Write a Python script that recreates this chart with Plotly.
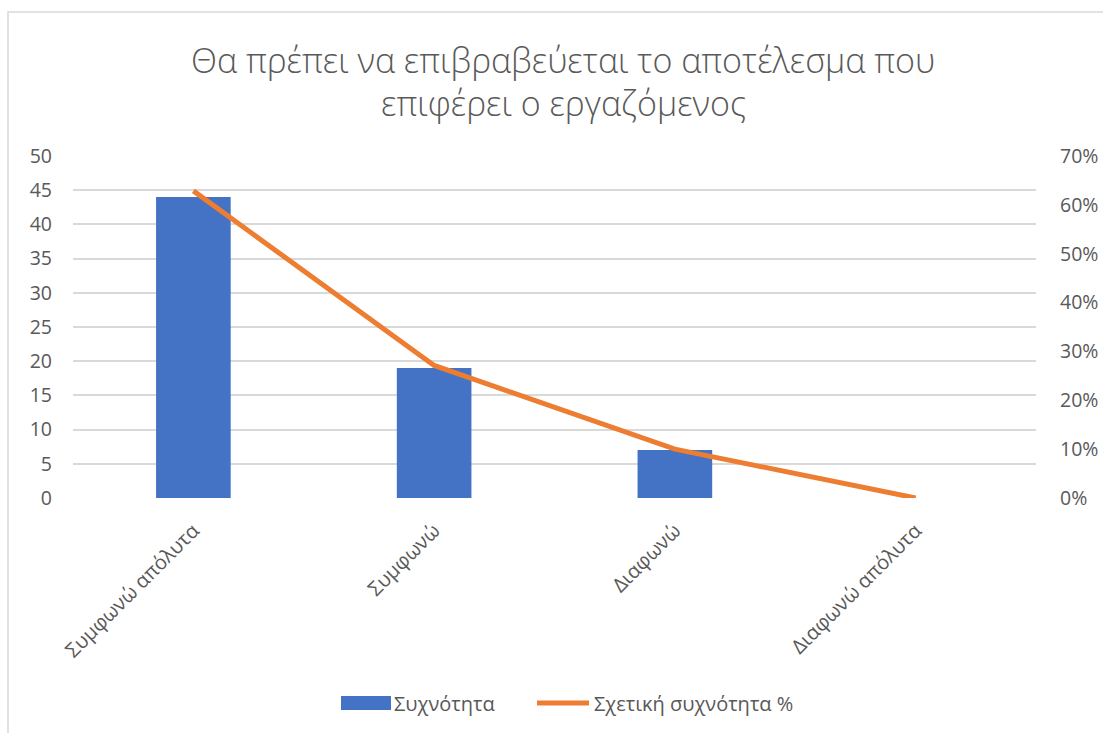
import plotly.graph_objects as go

categories = ["Συμφωνώ απόλυτα", "Συμφωνώ", "Διαφωνώ", "Διαφωνώ απόλυτα"]
frequency = [44, 19, 7, 0]
relative_pct = [0.6286, 0.2714, 0.10, 0.0]
title_lines = ["Θα πρέπει να επιβραβεύεται το αποτέλεσμα που", "επιφέρει ο εργαζόμενος"]
series_names = ["Συχνότητα", "Σχετική συχνότητα %"]

W, H = 1103, 733
L, R, T, B = 73, 67, 156, 235
FONT = "Open Sans, Noto Sans, sans-serif"
GRAY = "#595959"
BLUE = "#4472C4"
ORANGE = "#ED7D31"

fig = go.Figure()
fig.add_trace(go.Bar(
    x=categories, y=frequency, name=series_names[0],
    marker=dict(color=BLUE, line=dict(width=0)),
    width=0.31, yaxis="y", showlegend=False,
))
fig.add_trace(go.Scatter(
    x=categories, y=relative_pct, name=series_names[1],
    mode="lines", line=dict(color=ORANGE, width=5), yaxis="y2", showlegend=False,
))

pw = W - L - R
ph = H - T - B
def px_x(x):
    return (x - L) / pw
def px_y(y):
    return (H - B - y) / ph

fig.update_layout(
    width=W, height=H,
    margin=dict(l=L, r=R, t=T, b=B, autoexpand=False),
    paper_bgcolor="white", plot_bgcolor="white",
    font=dict(family=FONT, color=GRAY, size=20),
    showlegend=False,
    xaxis=dict(showgrid=False, tickangle=-45, showline=False, ticks="", automargin=False,
               tickfont=dict(size=20, color=GRAY), ticklabelstandoff=16),
    yaxis=dict(range=[0, 50], dtick=5, showgrid=True, gridcolor="#D9D9D9", gridwidth=1.5,
               zeroline=False, showline=False, tickfont=dict(size=19.5, color=GRAY),
               ticklabelstandoff=20, automargin=False),
    yaxis2=dict(range=[0, 0.7], dtick=0.1, tickformat=".0%", overlaying="y", side="right",
                showgrid=False, zeroline=False, showline=False, automargin=False,
                tickfont=dict(size=19.5, color=GRAY), ticklabelstandoff=23),
)

for line_text, ypx in zip(title_lines, [60, 103]):
    fig.add_annotation(text=line_text, xref="paper", yref="paper", x=px_x(563), y=px_y(ypx),
                       xanchor="center", yanchor="middle", showarrow=False,
                       font=dict(size=34, color=GRAY, family=FONT, weight=300))

# custom legend
ly = px_y(703)
fig.add_shape(type="rect", xref="paper", yref="paper",
              x0=px_x(341), x1=px_x(391), y0=px_y(710), y1=px_y(696),
              fillcolor=BLUE, line=dict(width=0))
fig.add_annotation(text=series_names[0], xref="paper", yref="paper", x=px_x(392), y=ly,
                   xanchor="left", yanchor="middle", showarrow=False,
                   font=dict(size=20, color=GRAY, family=FONT))
fig.add_shape(type="line", xref="paper", yref="paper",
              x0=px_x(537), x1=px_x(589), y0=ly, y1=ly,
              line=dict(color=ORANGE, width=5))
fig.add_annotation(text=series_names[1], xref="paper", yref="paper", x=px_x(592), y=ly,
                   xanchor="left", yanchor="middle", showarrow=False,
                   font=dict(size=20, color=GRAY, family=FONT))

# outer chart border
fig.add_shape(type="rect", xref="paper", yref="paper",
              x0=px_x(8), x1=px_x(1110), y0=px_y(740), y1=px_y(12),
              line=dict(color="#D9D9D9", width=1.5), fillcolor="rgba(0,0,0,0)", layer="below")

fig.write_html("out.html")
